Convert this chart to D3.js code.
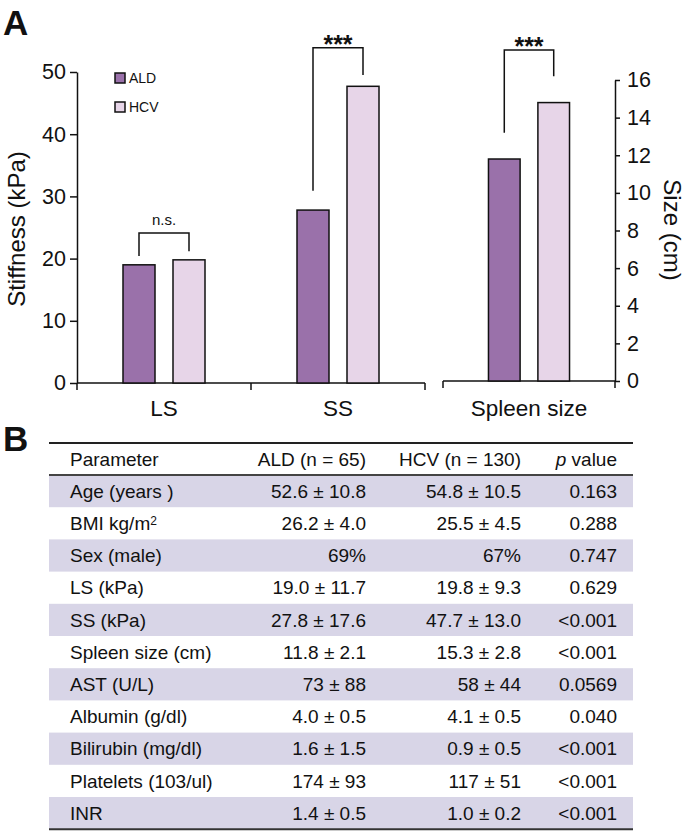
<!DOCTYPE html>
<html><head><meta charset="utf-8">
<script src="https://cdn.jsdelivr.net/npm/d3@7"></script>
<style>
body{margin:0;background:#fff}
svg{display:block}
text{font-family:"Liberation Sans",Arial,Helvetica,sans-serif;fill:#111}
</style>
</head><body>
<svg id="c" width="686" height="833"></svg>
<script>
// ---------- data ----------
const stiffCategories = ["LS", "SS"];
const sizeCategories = ["Spleen size"];
const groups = ["ALD", "HCV"];
const aldStiffness = [19.0, 27.8];
const hcvStiffness = [19.8, 47.7];
const aldSpleen = [11.8];
const hcvSpleen = [14.8];
const stiffTicks = [0, 10, 20, 30, 40, 50];
const sizeTicks = [0, 2, 4, 6, 8, 10, 12, 14, 16];
// significance brackets (values in axis units): category, level, left leg end, right leg end, label
const bracketCats = ["LS", "SS", "Spleen size"];
const bracketLevels = [24.1, 53.9, 17.6];
const bracketLeftEnds = [20.4, 30.9, 13.2];
const bracketRightEnds = [21.2, 49.5, 16.2];
const bracketLabels = ["n.s.", "***", "***"];

// table
const tableHeader = ["Parameter", "ALD (n = 65)", "HCV (n = 130)", "p value"];
const params = ["Age (years )", "BMI kg/m2", "Sex (male)", "LS (kPa)", "SS (kPa)", "Spleen size (cm)",
  "AST (U/L)", "Albumin (g/dl)", "Bilirubin (mg/dl)", "Platelets (103/ul)", "INR"];
const aldValues = ["52.6 ± 10.8", "26.2 ± 4.0", "69%", "19.0 ± 11.7", "27.8 ± 17.6", "11.8 ± 2.1",
  "73 ± 88", "4.0 ± 0.5", "1.6 ± 1.5", "174 ± 93", "1.4 ± 0.5"];
const hcvValues = ["54.8 ± 10.5", "25.5 ± 4.5", "67%", "19.8 ± 9.3", "47.7 ± 13.0", "15.3 ± 2.8",
  "58 ± 44", "4.1 ± 0.5", "0.9 ± 0.5", "117 ± 51", "1.0 ± 0.2"];
const pValues = ["0.163", "0.288", "0.747", "0.629", "<0.001", "<0.001", "0.0569", "0.040",
  "<0.001", "<0.001", "<0.001"];

// ---------- style ----------
const colors = { ALD: "#9a71aa", HCV: "#e7d5e8" };
const ink = "#111";
const svg = d3.select("#c");

// ---------- scales ----------
const yL = d3.scaleLinear().domain([0, 50]).range([383, 72]);
const yR = d3.scaleLinear().domain([0, 16]).range([381, 80]);
const x1 = d3.scaleBand().domain(stiffCategories).range([77, 425]);
const x2 = d3.scaleBand().domain(sizeCategories).range([443, 615]);
const in1 = d3.scaleBand().domain(groups).range([0, x1.bandwidth()]).paddingInner(0.36).paddingOuter(0.92);
const in2 = d3.scaleBand().domain(groups).range([0, x2.bandwidth()]).paddingInner(0.36).paddingOuter(0.92);

function styleAxis(g) {
  g.attr("font-size", null).attr("font-family", null);
  g.selectAll("path.domain").attr("stroke", ink).attr("stroke-width", 1.5);
  g.selectAll(".tick line").attr("stroke", ink).attr("stroke-width", 1.5);
  g.selectAll(".tick text").style("font-size", "21.5px").attr("fill", ink);
}

// ---------- panel label ----------
svg.append("text").attr("x", 3).attr("y", 35).style("font-size", "35px").style("font-weight", "bold").text("A");
svg.append("text").attr("x", 3).attr("y", 451).style("font-size", "35px").style("font-weight", "bold").text("B");

// ---------- left axis ----------
svg.append("g").attr("transform", "translate(77,0)")
  .call(d3.axisLeft(yL).tickValues(stiffTicks).tickSize(7).tickSizeOuter(0).tickPadding(4))
  .call(styleAxis);

// ---------- right axis ----------
svg.append("g").attr("transform", "translate(615,0)")
  .call(d3.axisRight(yR).tickValues(sizeTicks).tickSize(5).tickSizeOuter(0).tickPadding(7))
  .call(styleAxis);

// ---------- x baselines ----------
function baseline(xs, y0) {
  const [a, b] = xs.range();
  svg.append("line").attr("x1", a).attr("x2", b).attr("y1", y0).attr("y2", y0)
    .attr("stroke", ink).attr("stroke-width", 1.5);
  const bounds = xs.domain().map(d => xs(d)).concat([b]);
  svg.selectAll(null).data(bounds).enter().append("line")
    .attr("x1", d => d).attr("x2", d => d).attr("y1", y0).attr("y2", y0 + 7)
    .attr("stroke", ink).attr("stroke-width", 1.5);
  svg.selectAll(null).data(xs.domain()).enter().append("text")
    .attr("x", d => xs(d) + xs.bandwidth() / 2).attr("y", 416)
    .attr("text-anchor", "middle").style("font-size", "22.5px").text(d => d);
}
baseline(x1, yL(0));
baseline(x2, yR(0));

// ---------- bars ----------
const stiffData = [];
stiffCategories.forEach((c, i) => {
  stiffData.push({ cat: c, grp: "ALD", v: aldStiffness[i] });
  stiffData.push({ cat: c, grp: "HCV", v: hcvStiffness[i] });
});
const sizeData = [];
sizeCategories.forEach((c, i) => {
  sizeData.push({ cat: c, grp: "ALD", v: aldSpleen[i] });
  sizeData.push({ cat: c, grp: "HCV", v: hcvSpleen[i] });
});
function bars(data, xs, inner, ys) {
  svg.selectAll(null).data(data).enter().append("rect")
    .attr("x", d => xs(d.cat) + inner(d.grp))
    .attr("width", inner.bandwidth())
    .attr("y", d => ys(d.v))
    .attr("height", d => ys(0) - ys(d.v))
    .attr("fill", d => colors[d.grp])
    .attr("stroke", ink).attr("stroke-width", 1.5);
}
bars(stiffData, x1, in1, yL);
bars(sizeData, x2, in2, yR);

// ---------- brackets ----------
bracketCats.forEach((c, i) => {
  const isSize = sizeCategories.includes(c);
  const xs = isSize ? x2 : x1, inner = isSize ? in2 : in1, ys = isSize ? yR : yL;
  const xa = xs(c) + inner("ALD") + inner.bandwidth() / 2;
  const xb = xs(c) + inner("HCV") + inner.bandwidth() / 2;
  const yl = ys(bracketLevels[i]);
  svg.append("path")
    .attr("d", `M${xa},${ys(bracketLeftEnds[i])}V${yl}H${xb}V${ys(bracketRightEnds[i])}`)
    .attr("fill", "none").attr("stroke", ink).attr("stroke-width", 1.5);
  const lab = bracketLabels[i];
  const star = lab === "***";
  svg.append("text").attr("x", (xa + xb) / 2).attr("y", star ? yl + 5 : yl - 8)
    .attr("text-anchor", "middle")
    .style("font-size", star ? "25px" : "15px")
    .style("font-weight", star ? "bold" : "normal")
    .text(lab);
});

// ---------- legend ----------
groups.forEach((g, i) => {
  const ly = 73 + i * 29;
  svg.append("rect").attr("x", 115).attr("y", ly).attr("width", 10).attr("height", 10)
    .attr("fill", colors[g]).attr("stroke", ink).attr("stroke-width", 1.5);
  svg.append("text").attr("x", 129).attr("y", ly + 10).style("font-size", "14px").text(g);
});

// ---------- axis titles ----------
svg.append("text").attr("transform", "translate(25,229) rotate(-90)")
  .attr("text-anchor", "middle").style("font-size", "24px").text("Stiffness (kPa)");
svg.append("text").attr("transform", "translate(664,230) rotate(90)")
  .attr("text-anchor", "middle").style("font-size", "24px").text("Size (cm)");

// ---------- table ----------
const tx0 = 49, tx1 = 633, headTop = 443, headBot = 475, rowH = 32.2;
const colX = [70, 366, 521, 617];
const colAnchor = ["start", "end", "end", "end"];
const fs = "19px";

params.forEach((p, i) => {
  if (i % 2 === 0) {
    svg.append("rect").attr("x", tx0).attr("y", headBot + i * rowH).attr("width", tx1 - tx0)
      .attr("height", rowH).attr("fill", "#d8d5e7");
  }
});
svg.append("line").attr("x1", tx0).attr("x2", tx1).attr("y1", headTop).attr("y2", headTop)
  .attr("stroke", "#222").attr("stroke-width", 2);
svg.append("line").attr("x1", tx0).attr("x2", tx1).attr("y1", headBot).attr("y2", headBot)
  .attr("stroke", "#444").attr("stroke-width", 2);
svg.append("line").attr("x1", tx0).attr("x2", tx1).attr("y1", headBot + params.length * rowH)
  .attr("y2", headBot + params.length * rowH).attr("stroke", "#333").attr("stroke-width", 2);

// header
tableHeader.forEach((h, j) => {
  const t = svg.append("text").attr("x", colX[j]).attr("y", (headTop + headBot) / 2)
    .attr("dy", "0.35em").attr("text-anchor", colAnchor[j]).style("font-size", fs);
  if (h === "p value") {
    t.append("tspan").style("font-style", "italic").text("p");
    t.append("tspan").text(" value");
  } else t.text(h);
});

// rows
params.forEach((p, i) => {
  const cy = headBot + i * rowH + rowH / 2;
  const cells = [p, aldValues[i], hcvValues[i], pValues[i]];
  cells.forEach((c, j) => {
    const t = svg.append("text").attr("x", colX[j]).attr("y", cy).attr("dy", "0.35em")
      .attr("text-anchor", colAnchor[j]).style("font-size", fs);
    if (c === "BMI kg/m2") {
      t.append("tspan").text("BMI kg/m");
      t.append("tspan").attr("dy", "-0.4em").style("font-size", "12px").text("2");
    } else t.text(c);
  });
});
</script>
</body></html>
